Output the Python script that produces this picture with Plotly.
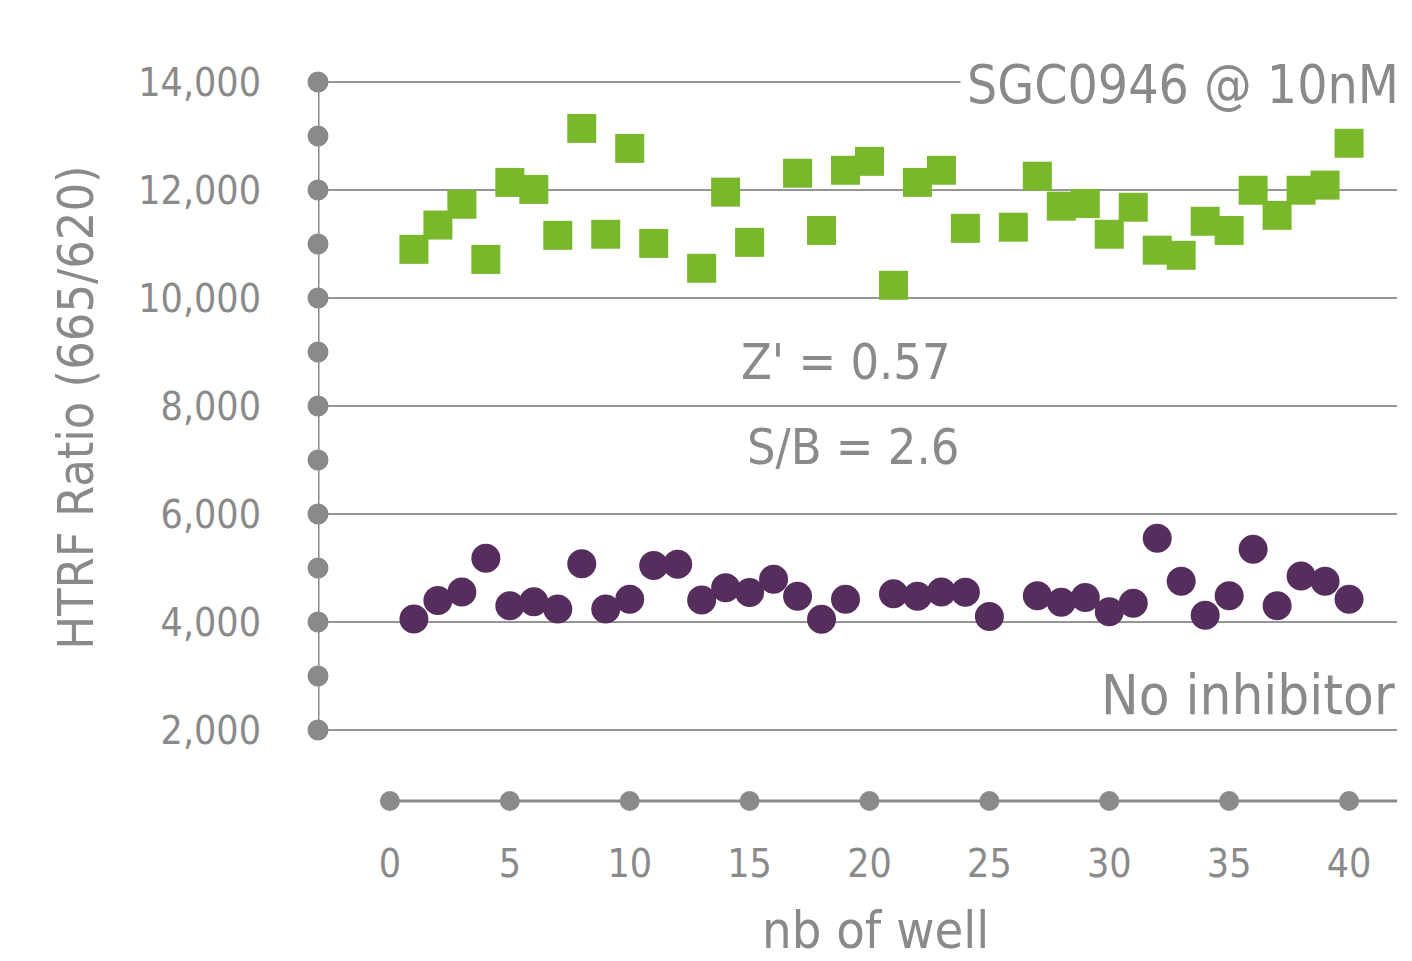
import plotly.graph_objects as go

# Well numbers and HTRF ratios for the inhibited wells (SGC0946 @ 10nM)
inhib_wells = [1, 2, 3, 4, 5, 6, 7, 8, 9, 10, 11, 13, 14, 15, 17, 18, 19, 20, 21, 22,
               23, 24, 26, 27, 28, 29, 30, 31, 32, 33, 34, 35, 36, 37, 38, 39, 40]
inhib_ratio = [10900, 11350, 11735, 10715, 12140, 12010, 11160, 13140, 11180, 12770,
               11010, 10550, 11960, 11030, 12310, 11250, 12365, 12530, 10235, 12140,
               12365, 11290, 11310, 12255, 11700, 11750, 11180, 11680, 10885, 10790,
               11420, 11250, 11995, 11530, 11995, 12090, 12865]

# Well numbers and HTRF ratios for the wells without inhibitor
noinh_wells = [1, 2, 3, 4, 5, 6, 7, 8, 9, 10, 11, 12, 13, 14, 15, 16, 17, 18, 19,
               21, 22, 23, 24, 25, 27, 28, 29, 30, 31, 32, 33, 34, 35, 36, 37, 38, 39, 40]
noinh_ratio = [4055, 4400, 4555, 5180, 4300, 4375, 4240, 5080, 4240, 4420, 5045, 5070,
               4405, 4635, 4545, 4790, 4475, 4050, 4420, 4525, 4475, 4555, 4550, 4100,
               4485, 4365, 4455, 4190, 4345, 5550, 4755, 4125, 4485, 5345, 4300, 4850,
               4755, 4420]

# Axis ticks
y_major = [2000, 4000, 6000, 8000, 10000, 12000, 14000]
y_minor = [2000, 3000, 4000, 5000, 6000, 7000, 8000, 9000, 10000, 11000, 12000, 13000, 14000]
x_ticks = [0, 5, 10, 15, 20, 25, 30, 35, 40]

X_RANGE = [-3, 42]
Y_RANGE = [685, 14055]

GRAY = "#8a8a8a"
GREEN = "#7ab82b"
PURPLE = "#562e5e"
FONT = "Liberation Sans Narrow, DejaVu Sans Condensed, Arial Narrow, sans-serif"

fig = go.Figure()

# Axis spines with dotted ticks
fig.add_shape(type="line", xref="x", yref="y", x0=X_RANGE[0], x1=X_RANGE[0],
              y0=y_minor[0], y1=y_minor[-1], line=dict(color=GRAY, width=3), layer="below")
fig.add_shape(type="line", xref="x", yref="paper", x0=x_ticks[0], x1=X_RANGE[1],
              y0=0, y1=0, line=dict(color=GRAY, width=3), layer="below")

fig.add_trace(go.Scatter(
    x=[X_RANGE[0]] * len(y_minor), y=y_minor, mode="markers",
    marker=dict(color=GRAY, size=21, line=dict(width=0)),
    cliponaxis=False, hoverinfo="skip", showlegend=False))
fig.add_trace(go.Scatter(
    x=x_ticks, y=[Y_RANGE[0]] * len(x_ticks), mode="markers",
    marker=dict(color=GRAY, size=20, line=dict(width=0)),
    cliponaxis=False, hoverinfo="skip", showlegend=False))

# Data series
fig.add_trace(go.Scatter(
    x=inhib_wells, y=inhib_ratio, mode="markers", name="SGC0946 @ 10nM",
    marker=dict(symbol="square", color=GREEN, size=29, line=dict(width=0)),
    cliponaxis=False, showlegend=False))
fig.add_trace(go.Scatter(
    x=noinh_wells, y=noinh_ratio, mode="markers", name="No inhibitor",
    marker=dict(symbol="circle", color=PURPLE, size=29, line=dict(width=0)),
    cliponaxis=False, showlegend=False))

annotations = [
    dict(text="SGC0946 @ 10nM", xref="paper", yref="y", x=1.008, y=13960,
         xanchor="right", yanchor="middle", showarrow=False, bgcolor="white",
         borderpad=6, font=dict(size=53, color=GRAY, family=FONT)),
    dict(text="No inhibitor", xref="paper", yref="y", x=1, y=2650,
         xanchor="right", yanchor="middle", showarrow=False,
         font=dict(size=56, color=GRAY, family=FONT)),
    dict(text="Z' = 0.57", xref="x", yref="y", x=19, y=8815,
         xanchor="center", yanchor="middle", showarrow=False,
         font=dict(size=50, color=GRAY, family=FONT)),
    dict(text="S/B = 2.6", xref="x", yref="y", x=19.3, y=7240,
         xanchor="center", yanchor="middle", showarrow=False,
         font=dict(size=50, color=GRAY, family=FONT)),
    dict(text="HTRF Ratio (665/620)", xref="paper", yref="paper", x=-0.225, y=0.545,
         xanchor="center", yanchor="middle", textangle=-90, showarrow=False,
         font=dict(size=50, color=GRAY, family=FONT)),
    dict(text="nb of well", xref="paper", yref="paper", x=0.517, y=-0.178,
         xanchor="center", yanchor="middle", showarrow=False,
         font=dict(size=52, color=GRAY, family=FONT)),
]

fig.update_layout(
    width=1412, height=961,
    margin=dict(l=318, r=15, t=79, b=160, pad=0),
    paper_bgcolor="white", plot_bgcolor="white",
    annotations=annotations,
    xaxis=dict(range=X_RANGE, tickvals=x_ticks, showgrid=False, zeroline=False,
               showline=False, ticks="", ticklabelstandoff=36,
               tickfont=dict(size=39, color=GRAY, family=FONT)),
    yaxis=dict(range=Y_RANGE, tickvals=y_major, tickformat=",", showgrid=True,
               gridcolor="#959595", gridwidth=2, zeroline=False, showline=False,
               ticks="", ticklabelstandoff=56,
               tickfont=dict(size=39, color=GRAY, family=FONT)),
)

fig.write_html("out.html")
